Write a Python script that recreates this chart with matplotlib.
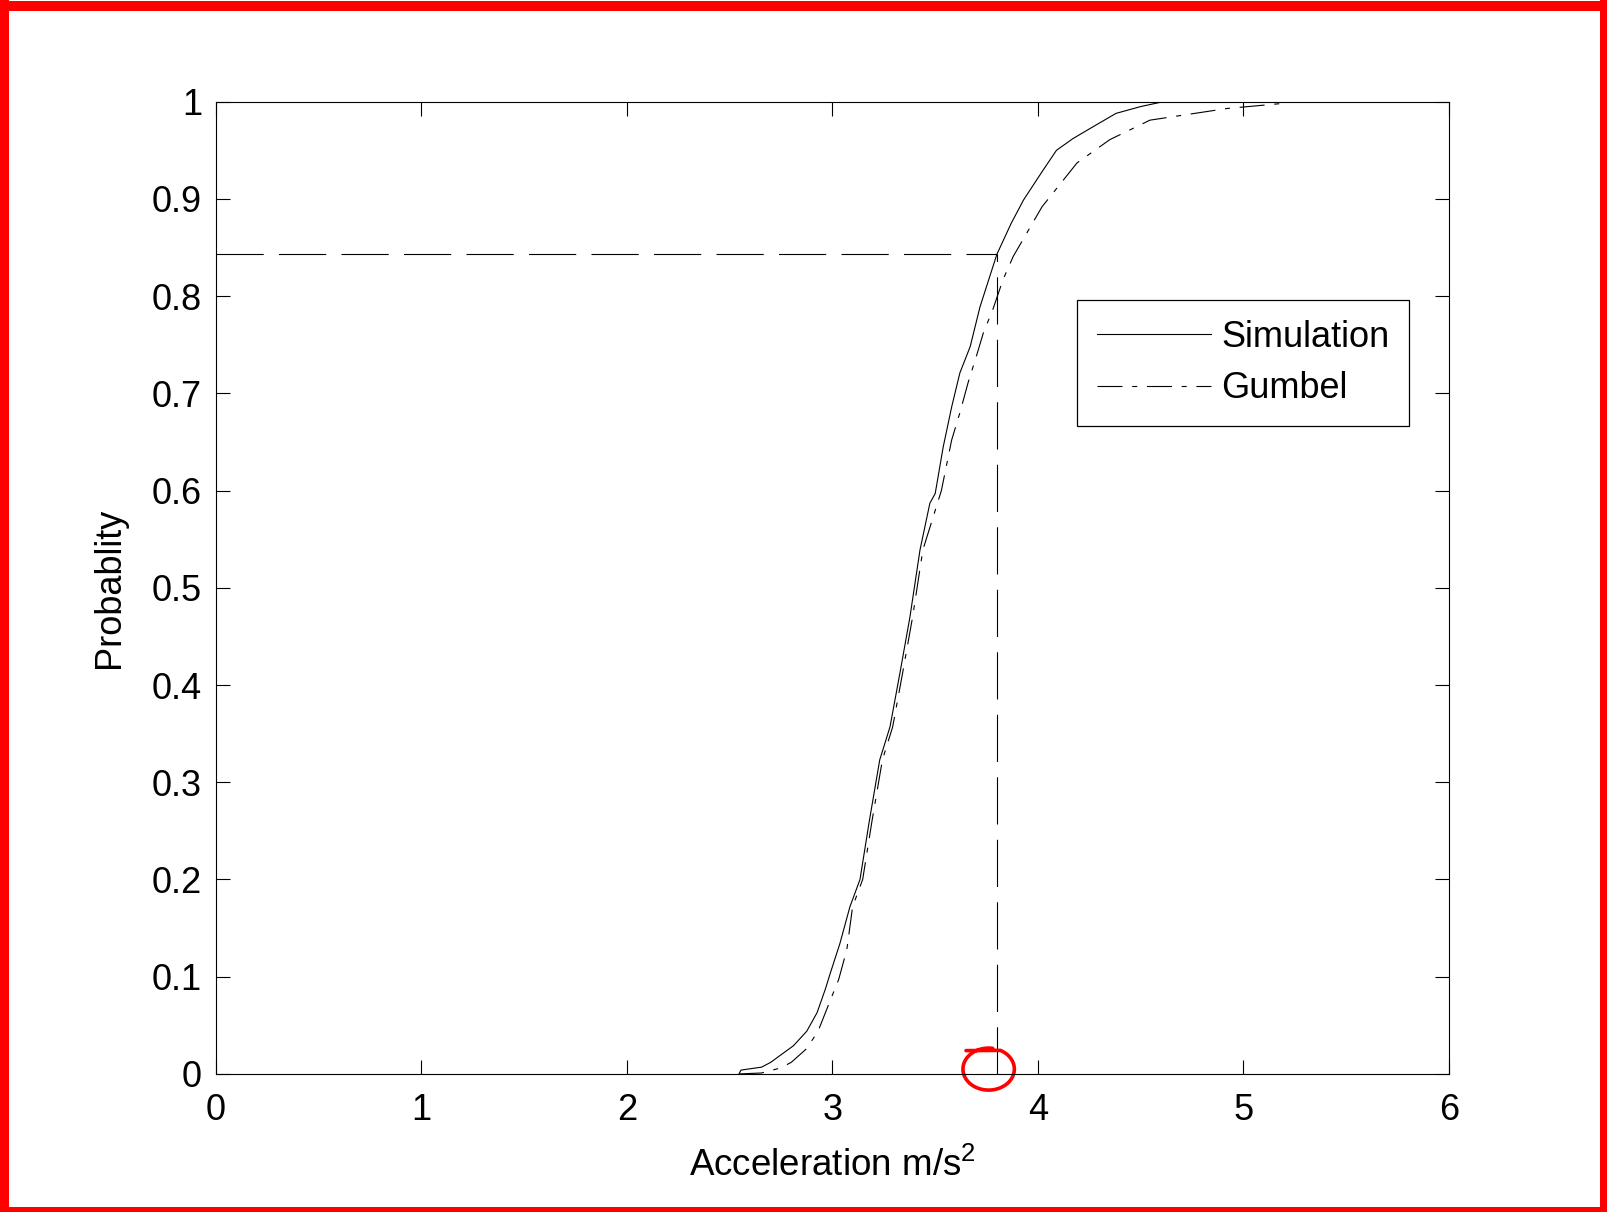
import numpy as np
import matplotlib
matplotlib.use("Agg")
import matplotlib.pyplot as plt
from matplotlib.patches import Rectangle

plt.rcParams["font.family"] = ["Liberation Sans", "DejaVu Sans"]
plt.rcParams["mathtext.default"] = "regular"
plt.rcParams["lines.scale_dashes"] = False

# empirical CDF of the simulated peak acceleration
sim_x = [2.545, 2.555, 2.655, 2.70, 2.745, 2.81, 2.875, 2.925, 2.965, 2.99,
         3.036, 3.085, 3.134, 3.18, 3.23, 3.28, 3.328, 3.377, 3.426, 3.474,
         3.50, 3.539, 3.58, 3.62, 3.67, 3.718, 3.80, 3.87, 3.93, 4.02,
         4.09, 4.17, 4.25, 4.38, 4.50, 4.61]
sim_p = [0.0, 0.004, 0.007, 0.012, 0.019, 0.029, 0.044, 0.063, 0.087, 0.104,
         0.134, 0.172, 0.200, 0.261, 0.323, 0.357, 0.412, 0.470, 0.539, 0.587,
         0.597, 0.645, 0.686, 0.721, 0.748, 0.789, 0.843, 0.875, 0.899, 0.928,
         0.950, 0.962, 0.972, 0.988, 0.995, 1.0]

# fitted Gumbel CDF
gum_x = [2.545, 2.655, 2.745, 2.80, 2.874, 2.93, 2.99, 3.03, 3.07, 3.098,
         3.147, 3.193, 3.243, 3.293, 3.341, 3.39, 3.44, 3.53, 3.58, 3.62,
         3.66, 3.70, 3.734, 3.78, 3.83, 3.88, 4.02, 4.19, 4.35, 4.545,
         4.92, 5.18]
gum_p = [0.0, 0.001, 0.006, 0.012, 0.026, 0.044, 0.076, 0.097, 0.128, 0.172,
         0.200, 0.261, 0.323, 0.357, 0.412, 0.470, 0.539, 0.600, 0.652, 0.680,
         0.711, 0.738, 0.762, 0.786, 0.817, 0.841, 0.892, 0.937, 0.961, 0.981,
         0.993, 0.998]

# design level
a_lim = 3.80
p_lim = 0.843

x_ticks = [0, 1, 2, 3, 4, 5, 6]
y_ticks = [0, 0.1, 0.2, 0.3, 0.4, 0.5, 0.6, 0.7, 0.8, 0.9, 1.0]
y_labels = ["0", "0.1", "0.2", "0.3", "0.4", "0.5", "0.6", "0.7", "0.8", "0.9", "1"]

fs = 26
fig = plt.figure(figsize=(16.08, 12.12), dpi=100)
ax = fig.add_axes([0.1343, 0.1139, 0.9011 - 0.1343, 0.9161 - 0.1139])

lw = 0.8
ax.plot(sim_x, sim_p, color="black", linewidth=lw, label="Simulation")
ax.plot(gum_x, gum_p, color="black", linewidth=lw, dashes=(18, 7, 3.6, 7),
        label="Gumbel")
ax.plot([0, a_lim], [p_lim, p_lim], color="black", linewidth=lw, dashes=(34, 11))
ax.plot([a_lim, a_lim], [0, p_lim], color="black", linewidth=lw, dashes=(34, 11))

ax.set_xlim(0, 6)
ax.set_ylim(0, 1)
ax.set_xticks(x_ticks)
ax.set_xticklabels([str(t) for t in x_ticks])
ax.set_yticks(y_ticks)
ax.set_yticklabels(y_labels)
ax.tick_params(direction="in", length=10, width=0.8, top=True, right=True,
               labelsize=fs)
ax.tick_params(axis="x", pad=14)
ax.tick_params(axis="y", pad=10)
for s in ax.spines.values():
    s.set_linewidth(0.8)

ax.set_xlabel("Acceleration m/s$^{2}$", fontsize=fs + 0.5, labelpad=14)
ax.set_ylabel("Probablity", fontsize=fs, labelpad=18)

leg = ax.legend(loc="upper right", bbox_to_anchor=(0.9676, 0.796), fontsize=fs,
                fancybox=False, framealpha=1, edgecolor="black",
                handlelength=3.15, handletextpad=0.28, borderpad=0.55,
                labelspacing=0.45, borderaxespad=0)
leg.get_frame().set_linewidth(0.9)

# hand-drawn red mark around the design level on the axis
t = np.linspace(0.15 * np.pi, 2.05 * np.pi, 120)
cx, cy = a_lim - 0.04, 0.005
rx, ry = 0.125, 0.0216
ex = cx + rx * np.cos(-t + np.pi / 2)
ey = cy + ry * np.sin(-t + np.pi / 2)
ex = np.concatenate([[cx - 0.11], ex])
ey = np.concatenate([[cy + 0.019], ey])
ax.plot(ex, ey, color="red", linewidth=2.6, clip_on=False, solid_capstyle="round")

# red frame around the whole figure
W, H = 1608, 1212
for (x0, y0, w, h) in [(0, 0, 9, H), (1600, 0, 8, H), (0, 0, W, 5), (0, H - 11, W, 10)]:
    fig.patches.append(Rectangle((x0 / W, y0 / H), w / W, h / H, transform=fig.transFigure,
                                 facecolor="red", edgecolor="none"))

fig.savefig("out.png", dpi=100)
